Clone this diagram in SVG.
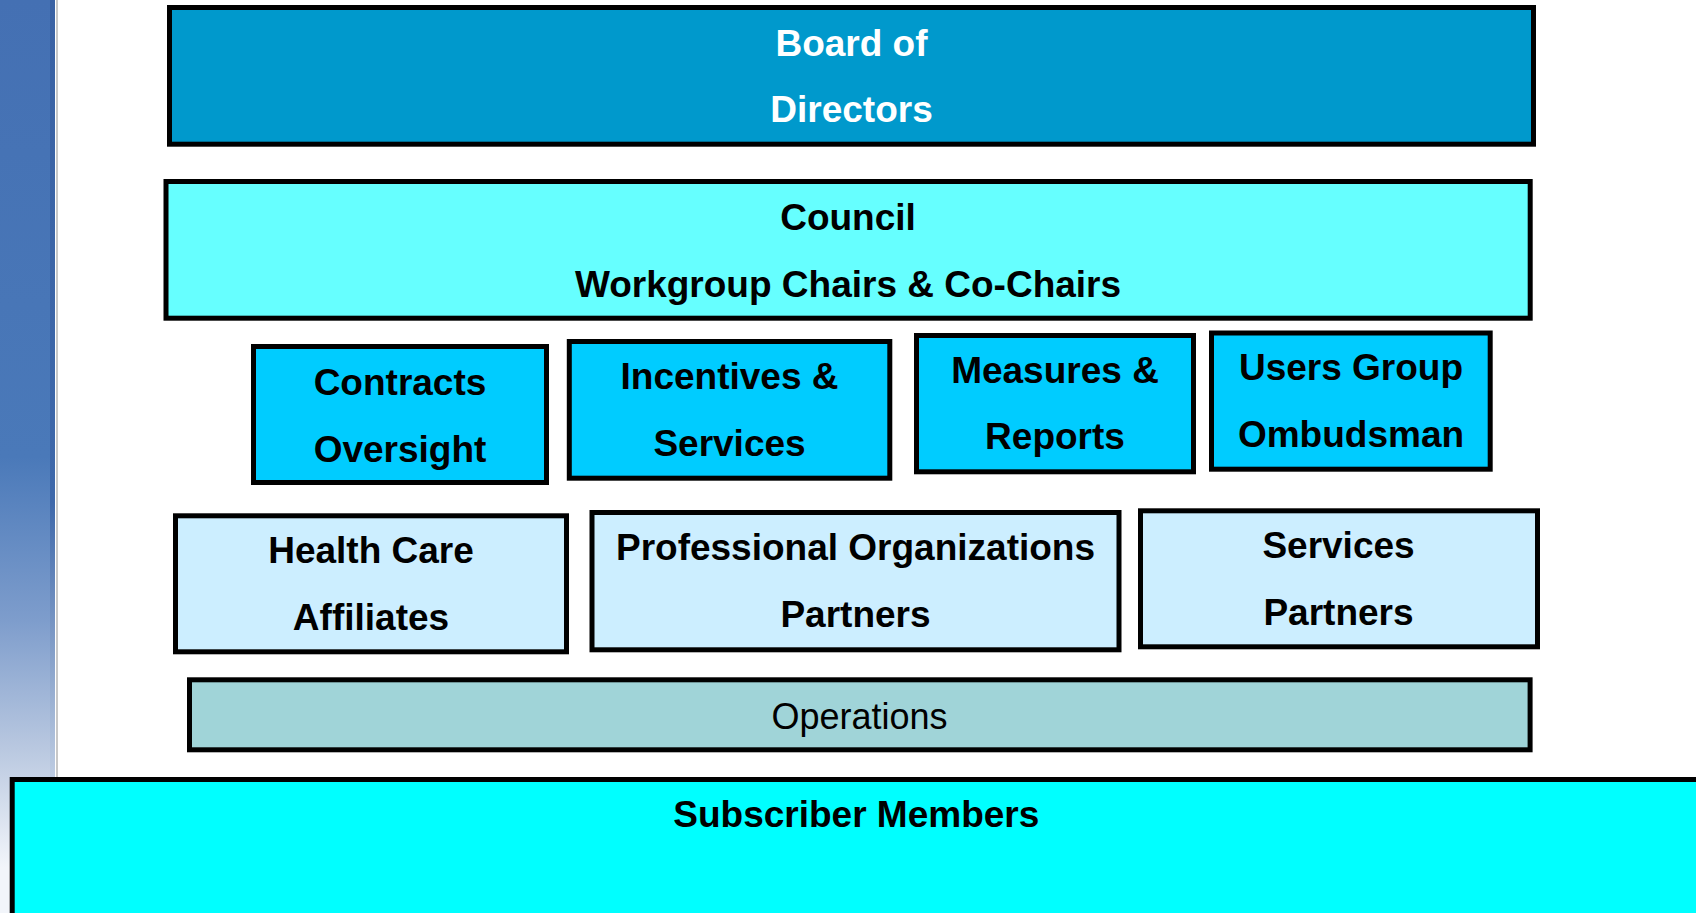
<svg xmlns="http://www.w3.org/2000/svg" width="1696" height="913" viewBox="0 0 1696 913">
<style>
.box{stroke:#000;stroke-width:5}
.t{font-family:"Liberation Sans",Arial,sans-serif;font-size:37px;font-weight:bold;text-anchor:middle;fill:#000}
.w{fill:#fff}
.r{font-weight:normal;font-size:36px}
</style>
<defs>
<linearGradient id="side" x1="0" y1="0" x2="0" y2="1">
<stop offset="0" stop-color="#4470b3"/>
<stop offset="0.5" stop-color="#4a79b9"/>
<stop offset="0.68" stop-color="#7e9dcc"/>
<stop offset="0.82" stop-color="#b9c8e0"/>
<stop offset="0.95" stop-color="#f2f5fa"/>
</linearGradient>
<linearGradient id="edge" x1="0" y1="0" x2="0" y2="1">
<stop offset="0" stop-color="#3a62a4"/>
<stop offset="0.55" stop-color="#3e68aa"/>
<stop offset="0.8" stop-color="#a9bcd9"/>
<stop offset="0.95" stop-color="#e6ebf3"/>
</linearGradient>
</defs>
<rect x="0" y="0" width="1696" height="913" fill="#fff"/>
<g id="sidebar">
<rect x="0" y="0" width="55" height="913" fill="url(#side)"/>
<rect x="50" y="0" width="5" height="913" fill="url(#edge)"/>
<rect x="56" y="0" width="2" height="913" fill="#c8c8c8"/>
</g>
<g id="connectors"></g>
<g id="board">
<rect class="box" x="169.5" y="7.5" width="1364" height="136.7" fill="#0099cc"/>
<text class="t w" x="851.5" y="56">Board of</text>
<text class="t w" x="851.5" y="121.7">Directors</text>
</g>
<g id="council">
<rect class="box" x="166" y="181.5" width="1364.2" height="136.7" fill="#66ffff"/>
<text class="t" x="848" y="230">Council</text>
<text class="t" x="848" y="296.7">Workgroup Chairs &amp; Co-Chairs</text>
</g>
<g id="contracts">
<rect class="box" x="253.5" y="346.5" width="293" height="136" fill="#00ccff"/>
<text class="t" x="400" y="395">Contracts</text>
<text class="t" x="400" y="461.7">Oversight</text>
</g>
<g id="incentives">
<rect class="box" x="569.3" y="341.5" width="320.5" height="136.7" fill="#00ccff"/>
<text class="t" x="729.5" y="389.3">Incentives &amp;</text>
<text class="t" x="729.5" y="456">Services</text>
</g>
<g id="measures">
<rect class="box" x="916.5" y="335.5" width="277" height="136.3" fill="#00ccff"/>
<text class="t" x="1055" y="383.3">Measures &amp;</text>
<text class="t" x="1055" y="449.3">Reports</text>
</g>
<g id="users">
<rect class="box" x="1211.5" y="333" width="278.7" height="136.2" fill="#00ccff"/>
<text class="t" x="1351" y="380">Users Group</text>
<text class="t" x="1351" y="447.3">Ombudsman</text>
</g>
<g id="healthcare">
<rect class="box" x="175.5" y="515.8" width="391" height="136" fill="#cceeff"/>
<text class="t" x="371" y="563.3">Health Care</text>
<text class="t" x="371" y="630">Affiliates</text>
</g>
<g id="professional">
<rect class="box" x="592" y="512.5" width="527" height="137.3" fill="#cceeff"/>
<text class="t" x="855.5" y="560">Professional Organizations</text>
<text class="t" x="855.5" y="626.7">Partners</text>
</g>
<g id="services">
<rect class="box" x="1140.5" y="510.8" width="397" height="136" fill="#cceeff"/>
<text class="t" x="1338.5" y="558.3">Services</text>
<text class="t" x="1338.5" y="625">Partners</text>
</g>
<g id="operations">
<rect class="box" x="189.5" y="679.8" width="1340.6" height="70" fill="#a0d4d8"/>
<text class="t r" x="859.5" y="729">Operations</text>
</g>
<g id="subscriber">
<rect class="box" x="12.2" y="779.5" width="1700" height="200" fill="#00ffff"/>
<text class="t" x="856.3" y="827">Subscriber Members</text>
</g>
</svg>
